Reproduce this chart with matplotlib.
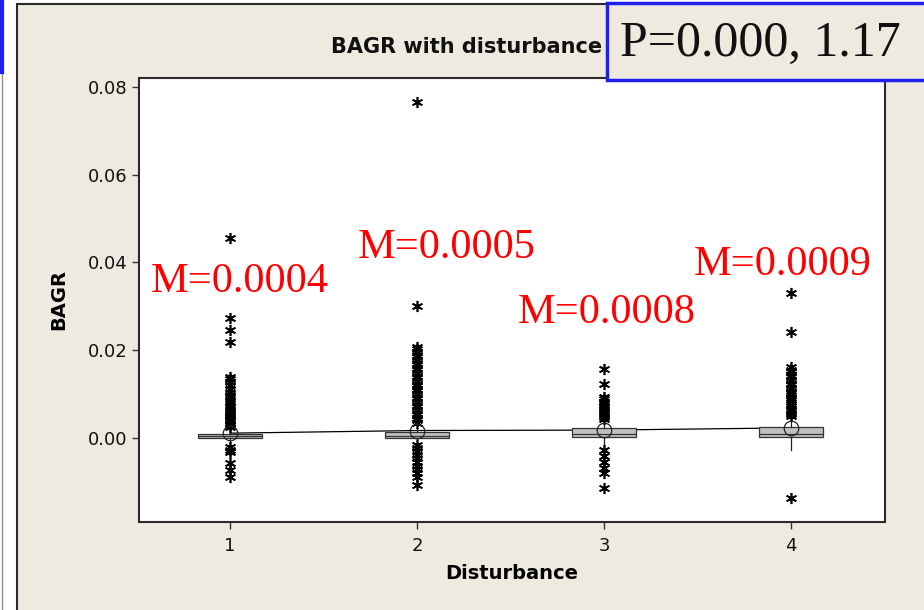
import matplotlib
matplotlib.use("Agg")
import matplotlib.pyplot as plt
from matplotlib.patches import Rectangle
from matplotlib.lines import Line2D

W, H = 924, 610

groups = [1, 2, 3, 4]
medians = [0.0004, 0.0005, 0.0008, 0.0009]
q1s = [0.0000, 0.0001, 0.0002, 0.0002]
q3s = [0.0009, 0.0013, 0.0023, 0.0025]
whis_lo = [-0.0012, -0.0010, -0.0020, -0.0027]
whis_hi = [0.0023, 0.0032, 0.0040, 0.0045]
means = [0.0011, 0.0017, 0.0018, 0.0023]

fliers_1 = [0.0456, 0.0274, 0.0247, 0.0218,
            0.0139, 0.0134, 0.0127, 0.0120, 0.0112, 0.0104, 0.0099, 0.0094,
            0.0089, 0.0084, 0.0079, 0.0074, 0.0070, 0.0066, 0.0062, 0.0058,
            0.0054, 0.0050, 0.0047, 0.0044, 0.0041, 0.0038, 0.0035, 0.0032,
            0.0029, 0.0026,
            -0.0020, -0.0027, -0.0033, -0.0057, -0.0073, -0.0089]
fliers_2 = [0.0766, 0.0300,
            0.0207, 0.0202, 0.0196, 0.0190, 0.0184, 0.0178, 0.0172, 0.0166,
            0.0160, 0.0154, 0.0148, 0.0142, 0.0136, 0.0130, 0.0124, 0.0118,
            0.0112, 0.0106, 0.0100, 0.0094, 0.0088, 0.0082, 0.0076, 0.0070,
            0.0064, 0.0058, 0.0052, 0.0046, 0.0040, 0.0034,
            -0.0015, -0.0022, -0.0030, -0.0038, -0.0046, -0.0055, -0.0063,
            -0.0071, -0.0080, -0.0088, -0.0107]
fliers_3 = [0.0157, 0.0123,
            0.0093, 0.0088, 0.0083, 0.0079, 0.0075, 0.0071, 0.0067, 0.0063,
            0.0059, 0.0055, 0.0051, 0.0047, 0.0044,
            -0.0027, -0.0041, -0.0055, -0.0068, -0.0080, -0.0114]
fliers_4 = [0.0330, 0.0242,
            0.0162, 0.0156, 0.0150, 0.0144, 0.0138, 0.0132, 0.0126, 0.0120,
            0.0114, 0.0108, 0.0102, 0.0097, 0.0092, 0.0087, 0.0082, 0.0077,
            0.0072, 0.0067, 0.0062, 0.0058, 0.0054, 0.0050,
            -0.0137]
fliers = [fliers_1, fliers_2, fliers_3, fliers_4]

m_labels = ["M=0.0004", "M=0.0005", "M=0.0008", "M=0.0009"]
yticks = [0.00, 0.02, 0.04, 0.06, 0.08]
title = "BAGR with disturbance"
p_text = "P=0.000, 1.17"

beige = "#EEEAE0"


def px(x, y):
    return x / W, 1 - y / H


fig = plt.figure(figsize=(W / 100, H / 100), dpi=100)
fig.patch.set_facecolor("white")

# outer panel
fig.patches.append(Rectangle(px(17, 640), 940 / W, 636 / H, transform=fig.transFigure,
                             facecolor=beige, edgecolor="#2b2b2b", lw=1.5, zorder=-5))
fig.lines.append(Line2D([1.5 / W, 1.5 / W], [0, 1 - 72 / H], transform=fig.transFigure,
                        color="#909090", lw=1, zorder=-4))
fig.lines.append(Line2D([1.5 / W, 1.5 / W], [1 - 72 / H, 1], transform=fig.transFigure,
                        color="#2020ee", lw=3, zorder=-4))

l, b = px(139, 522)
r, t = px(885, 78)
ax = fig.add_axes([l, b, r - l, t - b])
ax.set_zorder(1)
ax.set_facecolor("white")

stats = []
for i in range(len(groups)):
    stats.append(dict(med=medians[i], q1=q1s[i], q3=q3s[i], whislo=whis_lo[i],
                      whishi=whis_hi[i], mean=means[i], fliers=fliers[i]))

ax.bxp(stats, positions=groups, widths=0.34, patch_artist=True, showcaps=False,
       showmeans=True,
       boxprops=dict(facecolor="#c0c0c0", edgecolor="#333333", lw=0.9),
       medianprops=dict(color="#333333", lw=0.9),
       whiskerprops=dict(color="#222222", lw=0.9),
       meanprops=dict(marker="o", markerfacecolor="none", markeredgecolor="#222222",
                      markersize=10.5, markeredgewidth=0.9),
       flierprops=dict(marker=(6, 2, 0), markersize=8, markeredgecolor="black",
                       markeredgewidth=1.2, linestyle="none"))
ax.plot(groups, means, color="black", lw=0.9, zorder=1)

ax.set_xlim(0.513, 4.503)
ax.set_ylim(-0.01915, 0.08205)
ax.set_xticks(groups)
ax.set_yticks(yticks)
ax.set_yticklabels([f"{v:.2f}" for v in yticks])
ax.tick_params(axis="both", labelsize=13, length=5, width=1, color="#333333",
               labelcolor="#111111")
ax.tick_params(axis="x", pad=6)
for s in ax.spines.values():
    s.set_linewidth(1.5)
    s.set_color("#2b2b2b")

ax.set_xlabel("Disturbance", fontsize=14, fontweight="bold", labelpad=6)
ax.set_ylabel("BAGR", fontsize=14, fontweight="bold", labelpad=14)

fig.text(*px(467, 47), title, ha="center", va="center", fontsize=15,
         fontweight="bold", color="#111111")

# red annotations
label_pos = [(240, 282), (447, 248), (607, 313), (783, 265)]
for (x, y), s in zip(label_pos, m_labels):
    fig.text(*px(x, y), s, ha="center", va="center", color="red",
             fontsize=30.5, family="Liberation Serif", zorder=10)

# P box
fig.patches.append(Rectangle(px(607, 80), 330 / W, 77 / H, transform=fig.transFigure,
                             facecolor=beige, edgecolor="#2020ee", lw=2.5, zorder=5))
fig.text(*px(620, 44), p_text, ha="left", va="center", fontsize=36,
         family="Liberation Serif", color="#111111", zorder=6)

fig.savefig("out.png", dpi=100, facecolor=fig.get_facecolor())
